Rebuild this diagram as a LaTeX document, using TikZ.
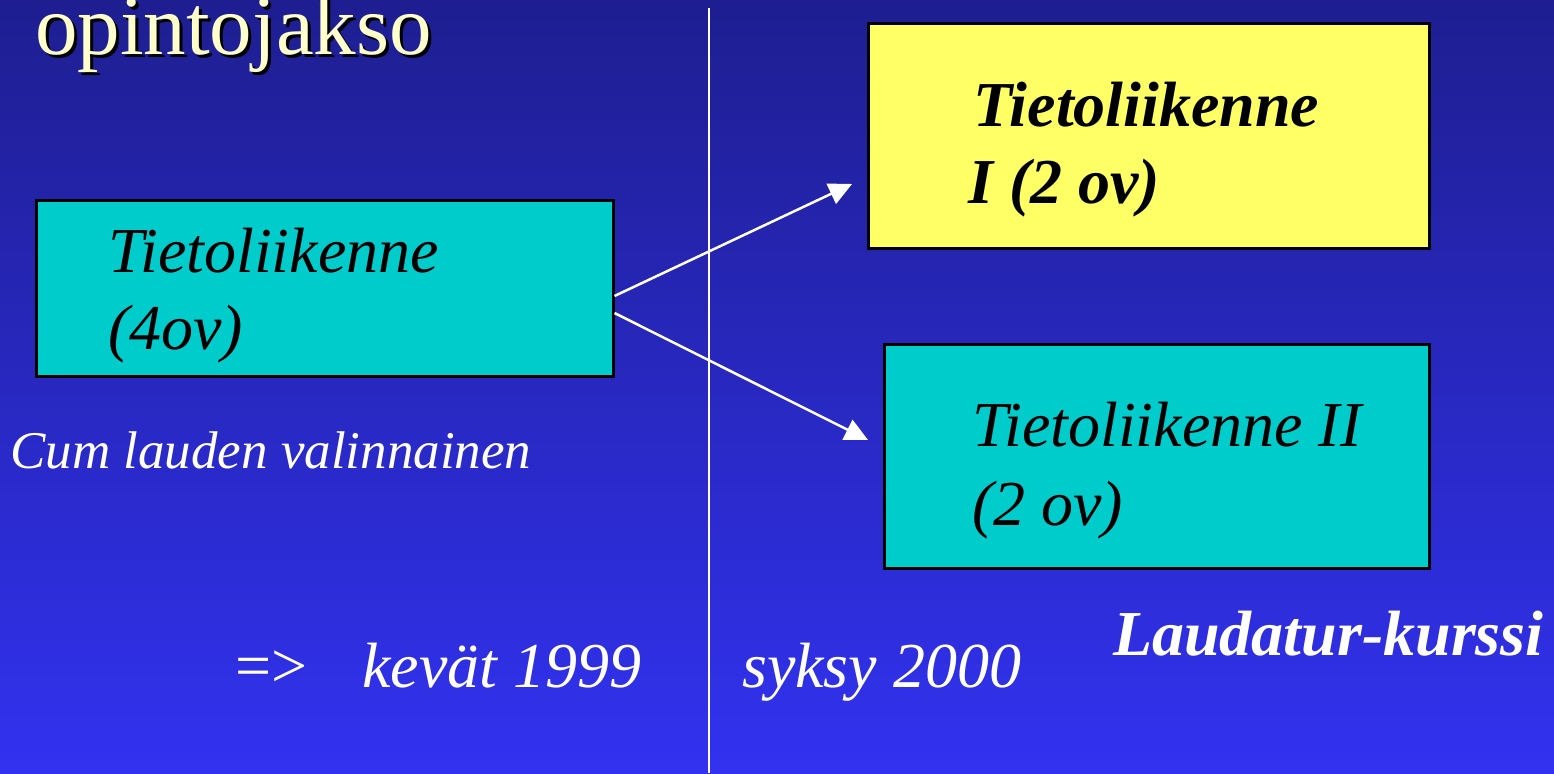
\documentclass[tikz,border=0pt]{standalone}
\usepackage{fontspec}
\setmainfont{Liberation Serif}
\usetikzlibrary{arrows.meta}

\definecolor{slidetop}{RGB}{30,30,145}
\definecolor{slidebot}{RGB}{50,50,240}
\definecolor{boxcyan}{RGB}{0,204,204}
\definecolor{boxyellow}{RGB}{255,255,102}
\definecolor{titleyellow}{RGB}{255,255,204}

\begin{document}
\begin{tikzpicture}[x=1pt,y=-1pt,>={Triangle[length=23pt,width=22pt]}]
  \tikzstyle{course}=[draw=black,line width=3pt,inner sep=0pt]
  \tikzstyle{label}=[anchor=base west,inner sep=0pt]
  \tikzstyle{big}=[label,font=\fontsize{64}{64}\selectfont\itshape]
  \tikzstyle{bigbold}=[label,font=\fontsize{64}{64}\selectfont\bfseries\itshape]

\useasboundingbox (0,0) rectangle (1554,773);
\shade[top color=slidetop,bottom color=slidebot] (0,0) rectangle (1554,773);

% title with shadow
\node [label,black,font=\fontsize{85}{85}\selectfont] (titleshadow) at (38,58) {opintojakso};
\node [label,titleyellow,font=\fontsize{85}{85}\selectfont] (title) at (35,55) {opintojakso};

% dividing line
\coordinate (divtop) at (709,8);
\coordinate (divbot) at (709,773);
\draw [white,line width=2pt] (divtop) -- (divbot);

% the courses
\node [course,fill=boxcyan,minimum width=577pt,minimum height=176pt] (old) at (324.5,288) {};
\node [course,fill=boxyellow,minimum width=561pt,minimum height=224pt] (partI) at (1148.5,136) {};
\node [course,fill=boxcyan,minimum width=545pt,minimum height=224pt] (partII) at (1156.5,456) {};

\node [big] (oldA) at (108,272) {Tietoliikenne};
\node [big] (oldB) at (108,349) {(4ov)};
\node [bigbold] (IA) at (973,127) {Tietoliikenne};
\node [bigbold] (IB) at (968,203) {I (2 ov)};
\node [big] (IIA) at (972,446) {Tietoliikenne II};
\node [big] (IIB) at (972,525) {(2 ov)};

% arrows
\coordinate (tipI) at (852,184);
\coordinate (tipII) at (868,440);
\draw [->,white,line width=2.5pt] ([yshift=-8pt]old.east) -- (tipI);
\draw [->,white,line width=2.5pt] ([yshift=-25pt]old.east) -- (tipII);

% captions
\node [label,white,font=\fontsize{53}{53}\selectfont\itshape] (cum) at (10,468) {Cum lauden valinnainen};
\node [big,white] (spring) at (235,687) {{\upshape =>}\hspace{55pt}kevät 1999};
\node [big,white] (autumn) at (742,687) {syksy 2000};
\node [bigbold,white] (laud) at (1113,655) {Laudatur-kurssi};

\end{tikzpicture}
\end{document}
